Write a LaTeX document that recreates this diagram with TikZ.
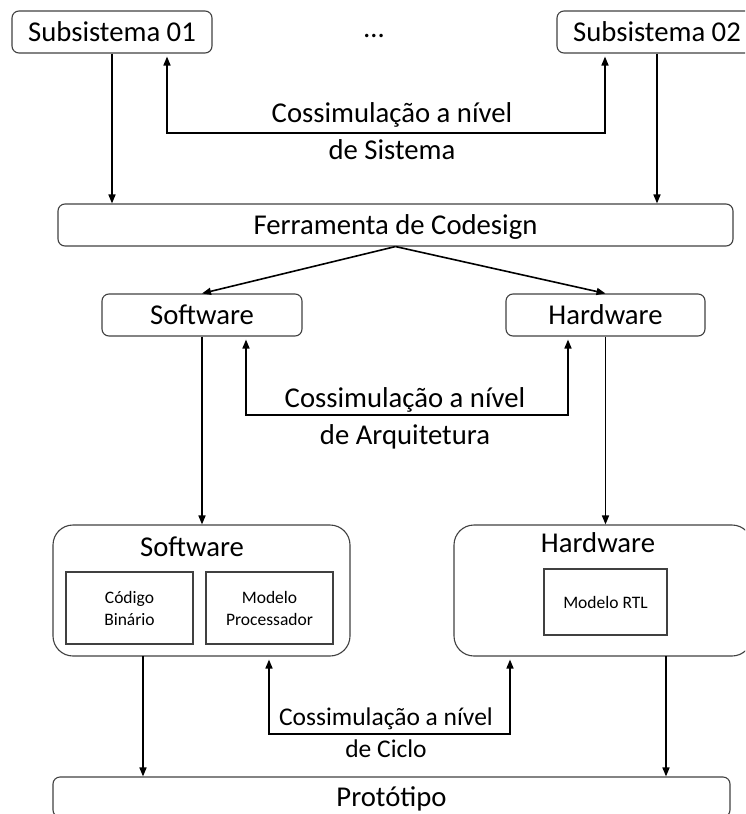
\documentclass[tikz,border=0pt]{standalone}
\usepackage{fontspec}
\setmainfont{Carlito}
\usetikzlibrary{arrows.meta}

\begin{document}
\begin{tikzpicture}[x = 1pt, y = -1pt, font = \fontsize{28.7}{37}\selectfont]
	\tikzstyle{boxStyle} = [draw = black!75, line width = 1.1pt, rounded corners = 7pt, inner sep = 0pt, minimum height = 42pt, text height = 19pt, text depth = 0pt]
	\tikzstyle{bigStyle} = [draw = black!75, line width = 1.1pt, rounded corners = 20pt, minimum width = 297pt, minimum height = 131pt]
	\tikzstyle{innerStyle} = [draw = black!75, line width = 1.1pt, inner sep = 0pt, align = center, font = \fontsize{17.5}{22}\selectfont]
	\tikzstyle{arrowStyle} = [-{Triangle[length = 9pt, width = 7pt]}, line width = 1.6pt]
	\tikzstyle{loopStyle} = [{Triangle[length = 9pt, width = 7pt]}-{Triangle[length = 9pt, width = 7pt]}, line width = 1.6pt, shorten < = 3pt, shorten > = 3pt]
	\tikzstyle{labelStyle} = [align = center, inner sep = 0pt]
	\clip (0, 0) rectangle (745, 814);
	\node[boxStyle, minimum width = 200pt] (sub1) at (112, 32) {Subsistema 01};
	\node (dots) at (374, 36) {…};
	\node[boxStyle, minimum width = 200pt] (sub2) at (657, 32) {Subsistema 02};
	\node[boxStyle, minimum width = 675pt] (tool) at (395.5, 225) {Ferramenta de Codesign};
	\node[boxStyle, minimum width = 200pt] (sw) at (202, 315) {Software};
	\node[boxStyle, minimum width = 199pt] (hw) at (605.5, 315) {Hardware};
	\node[bigStyle] (swb) at (201.5, 590.5) {};
	\node (swt) at (192, 547) {Software};
	\node[innerStyle, minimum width = 127pt, minimum height = 72pt] (bin) at (129.5, 608) {Código\\Binário};
	\node[innerStyle, minimum width = 127pt, minimum height = 72pt] (proc) at (269.5, 608) {Modelo\\Processador};
	\node[bigStyle, minimum width = 298pt] (hwb) at (603, 590.5) {};
	\node (hwt) at (598, 543) {Hardware};
	\node[innerStyle, minimum width = 123pt, minimum height = 66pt] (rtl) at (605.5, 602) {Modelo RTL};
	\node[boxStyle, minimum width = 677pt, minimum height = 40pt] (proto) at (391.5, 797) {Protótipo};
	\coordinate (sysL) at (167, 133);
	\coordinate (sysR) at (605, 133);
	\coordinate (arqL) at (246, 415);
	\coordinate (arqR) at (568, 415);
	\coordinate (cicL) at (269, 734);
	\coordinate (cicR) at (510, 734);
	\coordinate (swOut) at (143, 656);
	\coordinate (hwOut) at (666, 656);
	\draw[arrowStyle] (sub1) -- (sub1 |- tool.north);
	\draw[arrowStyle] (sub2) -- (sub2 |- tool.north);
	\draw[loopStyle] (sysL |- sub1.south) -- (sysL) -- (sysR) -- (sysR |- sub2.south);
	\node[labelStyle] (lsys) at (392, 131) {Cossimulação a nível\\de Sistema};
	\draw[arrowStyle] (tool.south) -- (sw.north);
	\draw[arrowStyle] (tool.south) -- (hw.north);
	\draw[arrowStyle] (sw.south) -- (sw.south |- swb.north);
	\draw[arrowStyle] (hw.south) -- (hw.south |- hwb.north);
	\draw[loopStyle] (arqL |- sw.south) -- (arqL) -- (arqR) -- (arqR |- hw.south);
	\node[labelStyle] (larq) at (405, 418) {Cossimulação a nível\\de Arquitetura};
	\draw[arrowStyle] (swOut) -- (swOut |- proto.north);
	\draw[arrowStyle] (hwOut) -- (hwOut |- proto.north);
	\draw[loopStyle] (cicL |- swb.south) -- (cicL) -- (cicR) -- (cicR |- hwb.south);
	\node[labelStyle, font = \fontsize{25.5}{32}\selectfont] (lcic) at (386, 733) {Cossimulação a nível\\de Ciclo};
\end{tikzpicture}
\end{document}
